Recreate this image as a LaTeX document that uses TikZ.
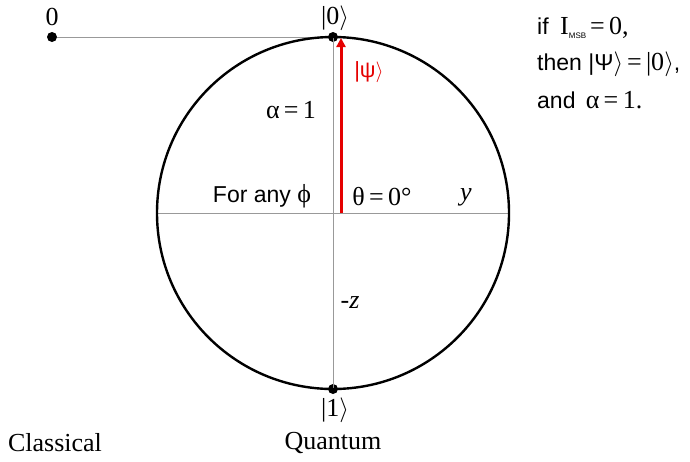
\documentclass[tikz,border=0pt]{standalone}
\usepackage{fontspec}
\setmainfont{Liberation Serif}
\setsansfont{Liberation Sans}
\usetikzlibrary{arrows.meta}
\tikzset{
  axis/.style={draw=black!40, line width=1pt},
  dot/.style={circle, fill=black, inner sep=0pt, minimum size=10pt},
  lbl/.style={font=\fontsize{26}{30}\selectfont, inner sep=0pt},
  slbl/.style={font=\sffamily\fontsize{23}{27}\selectfont, inner sep=0pt},
}
\newcommand{\serifbig}{\fontsize{26}{30}\selectfont}
\begin{document}
\begin{tikzpicture}[x=1pt,y=-1pt]
\useasboundingbox (0,0) rectangle (690,461);
\coordinate (c) at (333,213);
\coordinate (l) at (157,213);
\coordinate (r) at (509,213);
\node[dot] (top) at (333,37) {};
\node[dot] (bot) at (333,389) {};
\node[dot] (zero) at (52,37) {};
\draw[axis] (zero) -- (top.center);
\draw[axis] (top.center) -- (bot.center);
\draw[axis] (l) -- (r);
\draw[line width=2.4pt] (c) circle (176pt);
\coordinate (vs) at (341,213);
\coordinate (ve) at (341,38);
\draw[red!90!black, line width=3pt, -{Triangle[length=9pt,width=9pt]}] (vs) -- (ve);
\node[lbl] (t0) at (52,17) {0};
\node[lbl] (tk0) at (335,18) {|0$\rangle$};
\node[lbl, text=red!90!black, font=\sffamily\fontsize{22}{26}\selectfont] (psi) at (369,72) {|ψ$\rangle$};
\node[lbl] (alpha) at (291,110) {α\,=\,1};
\node[slbl] (phi) at (262,196) {For any \textrm{\serifbig ϕ}};
\node[lbl] (theta) at (382,197) {θ\,=\,0°};
\node[lbl] (y) at (466,197) {\textit{y}};
\node[lbl] (mz) at (350,303) {-\textit{z}};
\node[lbl] (tk1) at (335,410) {|1$\rangle$};
\node[lbl] (cl) at (55,443) {Classical};
\node[lbl] (qu) at (333,443) {Quantum};
\node[slbl, anchor=west] (r1) at (537,28) {if\enspace\textrm{\serifbig I}{\fontsize{8}{9}\selectfont\raisebox{-4pt}{MSB}}\,\textrm{\serifbig =\,0,}};
\node[slbl, anchor=west] (r2) at (537,64) {then |Ψ$\rangle$\,\textrm{\serifbig =\,|0}$\rangle$,};
\node[slbl, anchor=west] (r3) at (537,100) {and \,\textrm{\serifbig α\,=\,1.}};
\end{tikzpicture}
\end{document}
